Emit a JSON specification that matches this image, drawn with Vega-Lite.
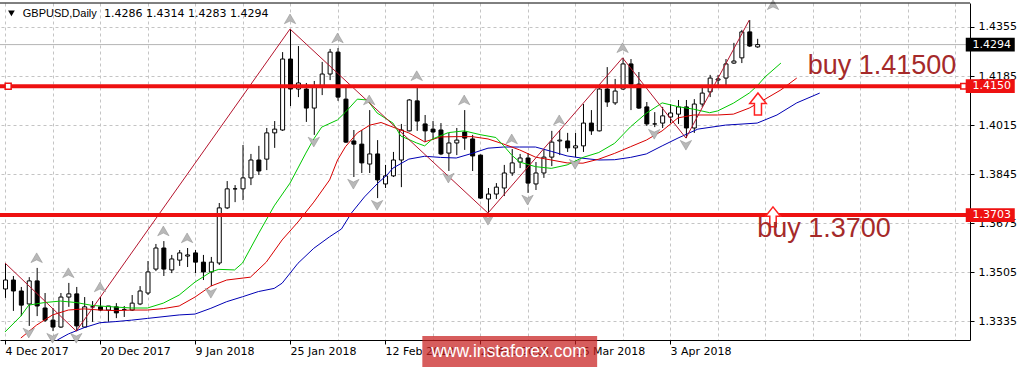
{
"$schema": "https://vega.github.io/schema/vega-lite/v6.json",
"width": 970, "height": 337,
"autosize": {"type": "none"},
"padding": {"left": 0, "top": 3, "right": 50, "bottom": 27},
"background": "white",
"config": {"view": {"stroke": null}},
"datasets": {
"candles": [
{"i":0,"o":1.3447,"h":1.3537,"l":1.3416,"c":1.3478},
{"i":1,"o":1.3478,"h":1.3492,"l":1.3371,"c":1.3440},
{"i":2,"o":1.3440,"h":1.3454,"l":1.3353,"c":1.3391},
{"i":3,"o":1.3395,"h":1.3488,"l":1.3319,"c":1.3475},
{"i":4,"o":1.3475,"h":1.3520,"l":1.3353,"c":1.3388},
{"i":5,"o":1.3381,"h":1.3433,"l":1.3333,"c":1.3339},
{"i":6,"o":1.3339,"h":1.3381,"l":1.3301,"c":1.3315},
{"i":7,"o":1.3315,"h":1.3433,"l":1.3312,"c":1.3419},
{"i":8,"o":1.3419,"h":1.3468,"l":1.3385,"c":1.3430},
{"i":9,"o":1.3430,"h":1.3454,"l":1.3301,"c":1.3319},
{"i":10,"o":1.3315,"h":1.3419,"l":1.3312,"c":1.3385},
{"i":11,"o":1.3385,"h":1.3405,"l":1.3333,"c":1.3385},
{"i":12,"o":1.3385,"h":1.3419,"l":1.3371,"c":1.3374},
{"i":13,"o":1.3374,"h":1.3388,"l":1.3333,"c":1.3388},
{"i":14,"o":1.3385,"h":1.3398,"l":1.3346,"c":1.3364},
{"i":15,"o":1.3376,"h":1.3388,"l":1.3350,"c":1.3376},
{"i":16,"o":1.3374,"h":1.3426,"l":1.3371,"c":1.3398},
{"i":17,"o":1.3395,"h":1.3457,"l":1.3391,"c":1.3440},
{"i":18,"o":1.3433,"h":1.3544,"l":1.3426,"c":1.3506},
{"i":19,"o":1.3516,"h":1.3603,"l":1.3509,"c":1.3589},
{"i":20,"o":1.3589,"h":1.3613,"l":1.3492,"c":1.3516},
{"i":21,"o":1.3513,"h":1.3565,"l":1.3502,"c":1.3551},
{"i":22,"o":1.3547,"h":1.3582,"l":1.3527,"c":1.3572},
{"i":23,"o":1.3561,"h":1.3589,"l":1.3523,"c":1.3565},
{"i":24,"o":1.3572,"h":1.3582,"l":1.3502,"c":1.3540},
{"i":25,"o":1.3540,"h":1.3565,"l":1.3478,"c":1.3506},
{"i":26,"o":1.3506,"h":1.3558,"l":1.3457,"c":1.3540},
{"i":27,"o":1.3537,"h":1.3745,"l":1.3530,"c":1.3728},
{"i":28,"o":1.3728,"h":1.3821,"l":1.3724,"c":1.3794},
{"i":29,"o":1.3794,"h":1.3807,"l":1.3748,"c":1.3794},
{"i":30,"o":1.3794,"h":1.3946,"l":1.3755,"c":1.3832},
{"i":31,"o":1.3832,"h":1.3915,"l":1.3807,"c":1.3894},
{"i":32,"o":1.3894,"h":1.3943,"l":1.3842,"c":1.3856},
{"i":33,"o":1.3897,"h":1.4005,"l":1.3859,"c":1.3988},
{"i":34,"o":1.3988,"h":1.4029,"l":1.3936,"c":1.4001},
{"i":35,"o":1.3998,"h":1.4268,"l":1.3995,"c":1.4244},
{"i":36,"o":1.4244,"h":1.4348,"l":1.4081,"c":1.4140},
{"i":37,"o":1.4140,"h":1.4289,"l":1.4112,"c":1.4161},
{"i":38,"o":1.4140,"h":1.4161,"l":1.4026,"c":1.4074},
{"i":39,"o":1.4074,"h":1.4168,"l":1.3981,"c":1.4147},
{"i":40,"o":1.4147,"h":1.4234,"l":1.4119,"c":1.4192},
{"i":41,"o":1.4192,"h":1.4279,"l":1.4171,"c":1.4268},
{"i":42,"o":1.4268,"h":1.4282,"l":1.4099,"c":1.4112},
{"i":43,"o":1.4105,"h":1.4151,"l":1.3953,"c":1.3956},
{"i":44,"o":1.3960,"h":1.3998,"l":1.3835,"c":1.3949},
{"i":45,"o":1.3949,"h":1.3998,"l":1.3849,"c":1.3884},
{"i":46,"o":1.3880,"h":1.4067,"l":1.3849,"c":1.3915},
{"i":47,"o":1.3915,"h":1.3963,"l":1.3762,"c":1.3825},
{"i":48,"o":1.3811,"h":1.3877,"l":1.3797,"c":1.3839},
{"i":49,"o":1.3839,"h":1.3922,"l":1.3835,"c":1.3894},
{"i":50,"o":1.3894,"h":1.4019,"l":1.3800,"c":1.3998},
{"i":51,"o":1.3995,"h":1.4105,"l":1.3993,"c":1.4102},
{"i":52,"o":1.4099,"h":1.4151,"l":1.3995,"c":1.4029},
{"i":53,"o":1.4019,"h":1.4050,"l":1.3956,"c":1.3995},
{"i":54,"o":1.4001,"h":1.4029,"l":1.3963,"c":1.3991},
{"i":55,"o":1.3998,"h":1.4022,"l":1.3911,"c":1.3915},
{"i":56,"o":1.3918,"h":1.3988,"l":1.3856,"c":1.3953},
{"i":57,"o":1.3953,"h":1.4005,"l":1.3911,"c":1.3963},
{"i":58,"o":1.3991,"h":1.4067,"l":1.3929,"c":1.3970},
{"i":59,"o":1.3967,"h":1.3981,"l":1.3856,"c":1.3908},
{"i":60,"o":1.3911,"h":1.3913,"l":1.3759,"c":1.3762},
{"i":61,"o":1.3759,"h":1.3797,"l":1.3710,"c":1.3776},
{"i":62,"o":1.3776,"h":1.3814,"l":1.3759,"c":1.3800},
{"i":63,"o":1.3797,"h":1.3877,"l":1.3769,"c":1.3849},
{"i":64,"o":1.3849,"h":1.3932,"l":1.3839,"c":1.3884},
{"i":65,"o":1.3887,"h":1.3915,"l":1.3866,"c":1.3901},
{"i":66,"o":1.3901,"h":1.3918,"l":1.3780,"c":1.3814},
{"i":67,"o":1.3811,"h":1.3887,"l":1.3790,"c":1.3849},
{"i":68,"o":1.3849,"h":1.3929,"l":1.3832,"c":1.3904},
{"i":69,"o":1.3904,"h":1.3995,"l":1.3873,"c":1.3956},
{"i":70,"o":1.3960,"h":1.3998,"l":1.3911,"c":1.3963},
{"i":71,"o":1.3960,"h":1.3988,"l":1.3922,"c":1.3936},
{"i":72,"o":1.3936,"h":1.3988,"l":1.3904,"c":1.3943},
{"i":73,"o":1.3943,"h":1.4088,"l":1.3922,"c":1.4022},
{"i":74,"o":1.4022,"h":1.4067,"l":1.3981,"c":1.3995},
{"i":75,"o":1.3995,"h":1.4151,"l":1.3993,"c":1.4140},
{"i":76,"o":1.4140,"h":1.4216,"l":1.4078,"c":1.4095},
{"i":77,"o":1.4092,"h":1.4175,"l":1.4085,"c":1.4133},
{"i":78,"o":1.4140,"h":1.4248,"l":1.4137,"c":1.4227},
{"i":79,"o":1.4227,"h":1.4244,"l":1.4067,"c":1.4157},
{"i":80,"o":1.4157,"h":1.4199,"l":1.4071,"c":1.4074},
{"i":81,"o":1.4078,"h":1.4095,"l":1.4012,"c":1.4019},
{"i":82,"o":1.4019,"h":1.4060,"l":1.4008,"c":1.4019},
{"i":83,"o":1.4022,"h":1.4078,"l":1.4005,"c":1.4047},
{"i":84,"o":1.4043,"h":1.4088,"l":1.4022,"c":1.4057},
{"i":85,"o":1.4053,"h":1.4102,"l":1.4019,"c":1.4078},
{"i":86,"o":1.4078,"h":1.4102,"l":1.3970,"c":1.4005},
{"i":87,"o":1.4005,"h":1.4105,"l":1.3988,"c":1.4088},
{"i":88,"o":1.4088,"h":1.4144,"l":1.4078,"c":1.4126},
{"i":89,"o":1.4130,"h":1.4189,"l":1.4112,"c":1.4178},
{"i":90,"o":1.4171,"h":1.4189,"l":1.4144,"c":1.4175},
{"i":91,"o":1.4178,"h":1.4244,"l":1.4147,"c":1.4227},
{"i":92,"o":1.4230,"h":1.4300,"l":1.4227,"c":1.4237},
{"i":93,"o":1.4248,"h":1.4345,"l":1.4230,"c":1.4338},
{"i":94,"o":1.4338,"h":1.4379,"l":1.4286,"c":1.4289},
{"i":95,"o":1.4286,"h":1.4314,"l":1.4283,"c":1.4294}
],
"jaw": [
{"i":6.6,"p":1.3270},{"i":8,"p":1.3291},{"i":10,"p":1.3313},{"i":12,"p":1.3330},{"i":14,"p":1.3334},{"i":16,"p":1.3339},{"i":18,"p":1.3345},{"i":22,"p":1.3357},{"i":24,"p":1.3360},{"i":26,"p":1.3380},{"i":28,"p":1.3403},{"i":30,"p":1.3420},{"i":32,"p":1.3438},{"i":34,"p":1.3449},{"i":35,"p":1.3467},{"i":37,"p":1.3536},{"i":39,"p":1.3588},{"i":41,"p":1.3628},{"i":42.5,"p":1.3655},{"i":43.75,"p":1.3710},{"i":45.4,"p":1.3766},{"i":47.1,"p":1.3814},{"i":48.25,"p":1.3842},{"i":49,"p":1.3866},{"i":51,"p":1.3897},{"i":53,"p":1.3907},{"i":55,"p":1.3903},{"i":57,"p":1.3901},{"i":59,"p":1.3917},{"i":61,"p":1.3935},{"i":63,"p":1.3939},{"i":65,"p":1.3939},{"i":67,"p":1.3939},{"i":69,"p":1.3924},{"i":71,"p":1.3908},{"i":73,"p":1.3900},{"i":75,"p":1.3894},{"i":77,"p":1.3895},{"i":79,"p":1.3903},{"i":81,"p":1.3915},{"i":83,"p":1.3943},{"i":85,"p":1.3970},{"i":87.5,"p":1.4001},{"i":91,"p":1.4015},{"i":95,"p":1.4022},{"i":97.5,"p":1.4050},{"i":100,"p":1.4092},{"i":102.9,"p":1.4126}
],
"teeth": [
{"i":2,"p":1.3277},{"i":4,"p":1.3322},{"i":6,"p":1.3357},{"i":8,"p":1.3374},{"i":10,"p":1.3378},{"i":12,"p":1.3374},{"i":14,"p":1.3372},{"i":16,"p":1.3374},{"i":18,"p":1.3374},{"i":20,"p":1.3379},{"i":22,"p":1.3388},{"i":24,"p":1.3419},{"i":26,"p":1.3457},{"i":28,"p":1.3478},{"i":31,"p":1.3488},{"i":33,"p":1.3540},{"i":35,"p":1.3617},{"i":37,"p":1.3679},{"i":39,"p":1.3748},{"i":41,"p":1.3825},{"i":42,"p":1.3894},{"i":43,"p":1.3940},{"i":44.5,"p":1.3988},{"i":46.1,"p":1.4015},{"i":47.5,"p":1.4024},{"i":49,"p":1.4008},{"i":51,"p":1.3988},{"i":53,"p":1.3957},{"i":55,"p":1.3974},{"i":57,"p":1.3975},{"i":59,"p":1.3975},{"i":61,"p":1.3967},{"i":63,"p":1.3949},{"i":65,"p":1.3929},{"i":67,"p":1.3904},{"i":69,"p":1.3894},{"i":71,"p":1.3884},{"i":73,"p":1.3883},{"i":75,"p":1.3897},{"i":77,"p":1.3917},{"i":79,"p":1.3940},{"i":81,"p":1.3963},{"i":83,"p":1.3995},{"i":85,"p":1.4040},{"i":87,"p":1.4050},{"i":90,"p":1.4050},{"i":92,"p":1.4053},{"i":94,"p":1.4074},{"i":96,"p":1.4105},{"i":98,"p":1.4137},{"i":100,"p":1.4178}
],
"lips": [
{"i":0,"p":1.3298},{"i":2,"p":1.3353},{"i":3,"p":1.3391},{"i":5,"p":1.3400},{"i":7,"p":1.3405},{"i":9,"p":1.3400},{"i":11,"p":1.3390},{"i":13,"p":1.3386},{"i":16,"p":1.3381},{"i":18,"p":1.3381},{"i":20,"p":1.3398},{"i":22,"p":1.3426},{"i":24,"p":1.3471},{"i":26,"p":1.3506},{"i":27,"p":1.3515},{"i":29,"p":1.3513},{"i":30,"p":1.3537},{"i":32,"p":1.3638},{"i":34,"p":1.3735},{"i":36,"p":1.3814},{"i":38,"p":1.3918},{"i":39,"p":1.3967},{"i":40,"p":1.4008},{"i":42,"p":1.4033},{"i":43,"p":1.4060},{"i":44.5,"p":1.4105},{"i":45.75,"p":1.4102},{"i":47,"p":1.4057},{"i":49,"p":1.4022},{"i":50,"p":1.3977},{"i":52,"p":1.3953},{"i":53,"p":1.3943},{"i":54,"p":1.3967},{"i":56,"p":1.3989},{"i":58,"p":1.3995},{"i":60,"p":1.3982},{"i":62,"p":1.3972},{"i":63,"p":1.3943},{"i":64,"p":1.3911},{"i":65,"p":1.3887},{"i":67,"p":1.3871},{"i":69,"p":1.3865},{"i":71,"p":1.3877},{"i":73,"p":1.3903},{"i":75,"p":1.3920},{"i":77,"p":1.3952},{"i":79,"p":1.4009},{"i":81,"p":1.4056},{"i":83,"p":1.4092},{"i":85,"p":1.4079},{"i":87,"p":1.4070},{"i":89,"p":1.4058},{"i":90,"p":1.4064},{"i":92,"p":1.4091},{"i":94,"p":1.4126},{"i":95,"p":1.4151},{"i":96,"p":1.4182},{"i":98,"p":1.4230}
],
"zigzag": [
{"i":0,"p":1.3537},{"i":9,"p":1.3301},{"i":36,"p":1.4348},{"i":61,"p":1.3710},{"i":78,"p":1.4248},{"i":86,"p":1.3970},{"i":94,"p":1.4379}
],
"fup": [
{"i":4,"p":1.3520},{"i":8,"p":1.3468},{"i":12,"p":1.3419},{"i":20,"p":1.3613},{"i":23,"p":1.3589},{"i":36,"p":1.4348},{"i":42,"p":1.4282},{"i":46,"p":1.4067},{"i":52,"p":1.4151},{"i":58,"p":1.4067},{"i":64,"p":1.3932},{"i":70,"p":1.3998},{"i":78,"p":1.4248},{"i":97,"p":1.4397}
],
"fdown": [
{"i":3,"p":1.3319},{"i":6,"p":1.3301},{"i":9,"p":1.3301},{"i":26,"p":1.3457},{"i":39,"p":1.3981},{"i":44,"p":1.3835},{"i":47,"p":1.3762},{"i":56,"p":1.3856},{"i":61,"p":1.3710},{"i":66,"p":1.3780},{"i":72,"p":1.3904},{"i":82,"p":1.4008},{"i":86,"p":1.3970}
],
"levels": [
{"level":1.4150,"label":"1.4150"},{"level":1.3703,"label":"1.3703"}
]
},
"layer": [
{"data":{"name":"candles"},"transform":[{"filter":"datum.i === 95"}],
 "mark":{"type":"rule","color":"#B4B4B4","strokeWidth":1},
 "encoding":{"y":{"field":"c","type":"quantitative"}}},
{"data":{"name":"candles"},
 "mark":{"type":"rule","color":"black","strokeWidth":1,"xOffset":0.5},
 "encoding":{
  "x":{"field":"i","type":"quantitative","scale":{"domain":[0,121.25],"nice":false,"zero":false},
   "axis":{"title":null,"values":[0,6,12,18,24,30,36,42,48,54,60,66,72,78,84,90,96,102,108,114,120],
    "grid":true,"gridDash":[3,3],"gridColor":"#C4C4C4","gridWidth":1,
    "labelExpr":"(datum.value % 12 === 0 && datum.value <= 84) ? ['4 Dec 2017','20 Dec 2017','9 Jan 2018','25 Jan 2018','12 Feb 2018','28 Feb 2018','16 Mar 2018','3 Apr 2018'][datum.value / 12] : ''",
    "labelAlign":"left","labelBaseline":"top","labelPadding":1,"tickSize":4,"tickColor":"black",
    "tickOpacity":{"condition":{"test":"datum.value % 12 === 0 && datum.value <= 84","value":1},"value":0},
    "domainColor":"black","labelFont":"DejaVu Sans","labelFontSize":11,"labelColor":"black",
    "labelOverlap":false,"labelBound":false,"labelFlush":false}},
  "y":{"field":"l","type":"quantitative","scale":{"domain":[1.327014,1.443818],"nice":false,"zero":false},
   "axis":{"orient":"right","title":null,"values":[1.3335,1.3505,1.3675,1.3845,1.4015,1.4185,1.4355],"format":".4f",
    "grid":true,"gridDash":[3,3],"gridColor":"#C4C4C4","tickSize":4,"tickColor":"black","domainColor":"black",
    "labelPadding":4,"labelFont":"DejaVu Sans","labelFontSize":11,"labelColor":"black",
    "labelOverlap":false,"labelBound":false,"labelFlush":false}},
  "y2":{"field":"h"}}},
{"data":{"name":"candles"},
 "mark":{"type":"bar","width":4,"stroke":"black","strokeWidth":1,"xOffset":0.5},
 "encoding":{"x":{"field":"i","type":"quantitative"},"y":{"field":"o","type":"quantitative"},"y2":{"field":"c"},
  "fill":{"condition":{"test":"datum.c < datum.o","value":"black"},"value":"white"}}},
{"data":{"name":"jaw"},"mark":{"type":"line","color":"#0000B4","strokeWidth":1},
 "encoding":{"x":{"field":"i","type":"quantitative"},"y":{"field":"p","type":"quantitative"}}},
{"data":{"name":"teeth"},"mark":{"type":"line","color":"#D80000","strokeWidth":1},
 "encoding":{"x":{"field":"i","type":"quantitative"},"y":{"field":"p","type":"quantitative"}}},
{"data":{"name":"lips"},"mark":{"type":"line","color":"#00C800","strokeWidth":1},
 "encoding":{"x":{"field":"i","type":"quantitative"},"y":{"field":"p","type":"quantitative"}}},
{"data":{"name":"zigzag"},"mark":{"type":"line","color":"#B4142D","strokeWidth":1},
 "encoding":{"x":{"field":"i","type":"quantitative"},"y":{"field":"p","type":"quantitative"}}},
{"data":{"name":"fup"},"mark":{"type":"point","shape":"M0,-0.75L0.85,0.7L0,0.3L-0.85,0.7Z","size":180,"filled":true,"fill":"#B8B8B8","stroke":"#8C8C8C","strokeWidth":0.5,"opacity":1,"yOffset":-10},
 "encoding":{"x":{"field":"i","type":"quantitative"},"y":{"field":"p","type":"quantitative"}}},
{"data":{"name":"fdown"},"mark":{"type":"point","shape":"M0,0.75L0.85,-0.7L0,-0.3L-0.85,-0.7Z","size":180,"filled":true,"fill":"#B8B8B8","stroke":"#8C8C8C","strokeWidth":0.5,"opacity":1,"yOffset":7},
 "encoding":{"x":{"field":"i","type":"quantitative"},"y":{"field":"p","type":"quantitative"}}},
{"data":{"name":"levels"},"mark":{"type":"rule","color":"#EE1111","strokeWidth":4},
 "encoding":{"y":{"field":"level","type":"quantitative"}}},
{"data":{"values":[{}]},"mark":{"type":"rule","color":"black","strokeWidth":1},
 "encoding":{"y":{"datum":1.443818}}},
{"data":{"name":"levels"},"transform":[{"filter":"datum.level > 1.4"}],
 "mark":{"type":"point","shape":"square","size":36,"filled":true,"fill":"white","stroke":"#EE1111","strokeWidth":1.5,"opacity":1},
 "encoding":{"x":{"datum":0.4},"y":{"field":"level","type":"quantitative"}}},
{"data":{"name":"levels"},
 "mark":{"type":"point","shape":"M-1,-0.28L1,-0.28L1,0.28L-1,0.28Z","size":2401,"filled":true,"fill":"#EE1111","strokeWidth":0,"opacity":1},
 "encoding":{"x":{"datum":124.44},"y":{"field":"level","type":"quantitative"}}},
{"data":{"name":"levels"},"transform":[{"filter":"datum.level > 1.4"}],
 "mark":{"type":"point","shape":"square","size":30,"filled":true,"fill":"white","stroke":"#EE1111","strokeWidth":1.5,"opacity":1},
 "encoding":{"x":{"datum":121.06},"y":{"field":"level","type":"quantitative"}}},
{"data":{"name":"candles"},"transform":[{"filter":"datum.i === 95"}],
 "mark":{"type":"point","shape":"M-1,-0.28L1,-0.28L1,0.28L-1,0.28Z","size":2401,"filled":true,"fill":"black","strokeWidth":0,"opacity":1},
 "encoding":{"x":{"datum":124.44},"y":{"field":"c","type":"quantitative"}}},
{"data":{"name":"levels"},
 "mark":{"type":"text","align":"left","baseline":"middle","color":"white","font":"DejaVu Sans","fontSize":11},
 "encoding":{"x":{"datum":122.2},"y":{"field":"level","type":"quantitative"},"text":{"field":"label"}}},
{"data":{"name":"candles"},"transform":[{"filter":"datum.i === 95"}],
 "mark":{"type":"text","align":"left","baseline":"middle","color":"white","font":"DejaVu Sans","fontSize":11},
 "encoding":{"x":{"datum":122.2},"y":{"field":"c","type":"quantitative"},"text":{"field":"c","type":"quantitative","format":".4f"}}},
{"data":{"values":[{}]},
 "mark":{"type":"point","shape":"triangle-down","size":45,"filled":true,"fill":"black","opacity":1},
 "encoding":{"x":{"datum":0.81},"y":{"datum":1.4402}}},
{"data":{"values":[{}]},
 "mark":{"type":"text","align":"left","baseline":"middle","color":"black","font":"Liberation Sans","fontSize":11,"text":"GBPUSD,Daily"},
 "encoding":{"x":{"datum":2.25},"y":{"datum":1.4400}}},
{"data":{"values":[{}]},
 "mark":{"type":"text","align":"left","baseline":"middle","color":"black","font":"DejaVu Sans","fontSize":11,"text":"1.4286 1.4314 1.4283 1.4294"},
 "encoding":{"x":{"datum":12.5},"y":{"datum":1.4400}}},
{"data":{"values":[{}]},
 "mark":{"type":"text","align":"left","baseline":"alphabetic","color":"#A52A2A","font":"Liberation Sans","fontSize":27,"text":"buy 1.41500"},
 "encoding":{"x":{"datum":101.375},"y":{"datum":1.4192}}},
{"data":{"values":[{}]},
 "mark":{"type":"point","shape":"M0,-1L0.75,-0.05L0.32,-0.05L0.32,1L-0.32,1L-0.32,-0.05L-0.75,-0.05Z","size":484,"filled":true,"fill":"white","stroke":"#FF2020","strokeWidth":1.5,"opacity":1},
 "encoding":{"x":{"datum":95.1},"y":{"datum":1.4088}}},
{"data":{"values":[{}]},
 "mark":{"type":"point","shape":"M0,-1L0.75,-0.05L0.32,-0.05L0.32,1L-0.32,1L-0.32,-0.05L-0.75,-0.05Z","size":400,"filled":true,"fill":"white","stroke":"#FF2020","strokeWidth":1.5,"opacity":1},
 "encoding":{"x":{"datum":97},"y":{"datum":1.3697}}},
{"data":{"values":[{}]},
 "mark":{"type":"text","align":"left","baseline":"alphabetic","color":"#A52A2A","font":"Liberation Sans","fontSize":27,"text":"buy 1.3700"},
 "encoding":{"x":{"datum":95.0},"y":{"datum":1.3627}}},
{"data":{"values":[{}]},
 "mark":{"type":"rect","fill":"#C81E1E","opacity":0.72},
 "encoding":{"x":{"datum":52.71},"x2":{"datum":74.79},"y":{"datum":1.3284},"y2":{"datum":1.31766}}},
{"data":{"values":[{}]},
 "mark":{"type":"text","align":"center","baseline":"middle","color":"white","font":"Liberation Sans","fontSize":17.5,"text":"www.instaforex.com"},
 "encoding":{"x":{"datum":63.65},"y":{"datum":1.32296}}}
]
}
